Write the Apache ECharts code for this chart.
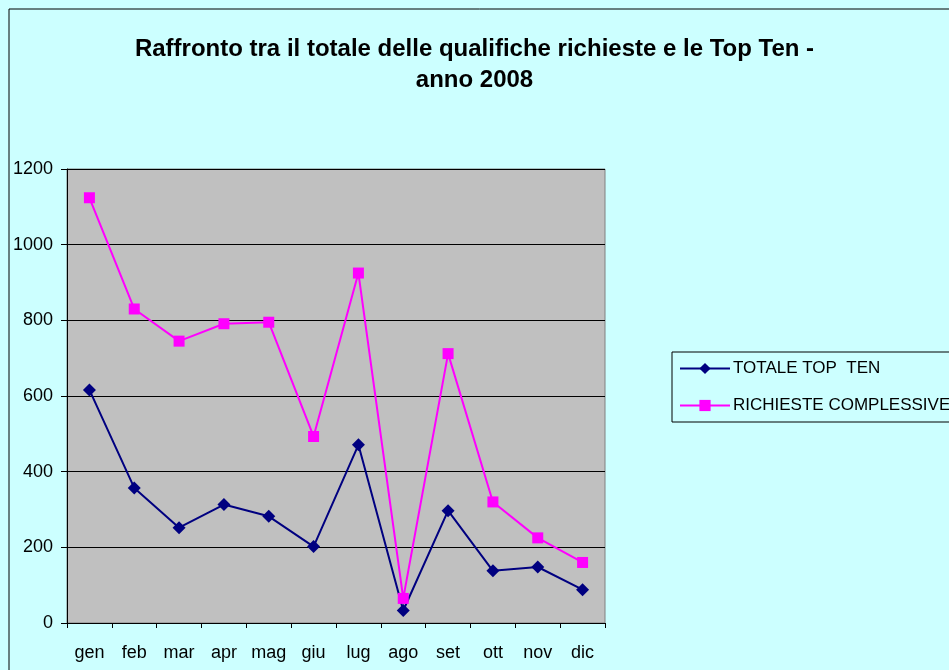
<!DOCTYPE html>
<html>
<head>
<meta charset="utf-8">
<script src="https://cdn.jsdelivr.net/npm/echarts@6/dist/echarts.min.js"></script>
<style>
  html, body { margin: 0; padding: 0; background: #ccffff; }
  #chart { width: 949px; height: 670px; }
</style>
</head>
<body>
<div id="chart"></div>
<script>
const months = ['gen', 'feb', 'mar', 'apr', 'mag', 'giu', 'lug', 'ago', 'set', 'ott', 'nov', 'dic']
const topTen = [616, 357, 252, 313, 282, 202, 471, 33, 297, 138, 148, 88]
const richieste = [1124, 830, 745, 791, 795, 493, 925, 65, 712, 320, 225, 160]
const yTicks = { min: 0, max: 1200, interval: 200 }

const chart = echarts.init(document.getElementById('chart'))
chart.setOption({
  backgroundColor: '#ccffff',
  animation: false,
  textStyle: { fontFamily: 'Liberation Sans, Arial, sans-serif' },
  title: {
    text: 'Raffronto tra il totale delle qualifiche richieste e le Top Ten -\nanno 2008',
    left: 'center',
    top: 29,
    textStyle: { fontSize: 24, fontWeight: 'bold', color: '#000', lineHeight: 31 }
  },
  graphic: [
    {
      type: 'rect',
      shape: { x: 9, y: 9, width: 960, height: 680 },
      style: { fill: 'none', stroke: '#000', lineWidth: 1 },
      silent: true
    }
  ],
  legend: {
    orient: 'vertical',
    left: 672,
    top: 352,
    padding: [8, 60, 8, 7],
    itemGap: 20,
    itemWidth: 50,
    itemHeight: 14,
    borderColor: '#000',
    borderWidth: 1,
    backgroundColor: '#ccffff',
    textStyle: { fontSize: 17, color: '#000', padding: [0, 0, 0, -2] },
    data: ['TOTALE TOP  TEN', 'RICHIESTE COMPLESSIVE']
  },
  grid: { left: 67, top: 169, right: 344, bottom: 47, containLabel: false,
    show: true, backgroundColor: '#c0c0c0', borderColor: '#808080', borderWidth: 1 },
  xAxis: {
    type: 'category',
    data: months,
    boundaryGap: true,
    axisLine: { lineStyle: { color: '#000', width: 1 } },
    axisTick: { show: true, length: 5, lineStyle: { color: '#000' } },
    axisLabel: { fontSize: 18, color: '#000', margin: 21, interval: 0 }
  },
  yAxis: {
    type: 'value',
    min: yTicks.min,
    max: yTicks.max,
    interval: yTicks.interval,
    axisLine: { show: true, lineStyle: { color: '#000', width: 1 } },
    axisTick: { show: true, length: 6, lineStyle: { color: '#000' } },
    axisLabel: { fontSize: 18, color: '#000', margin: 14, formatter: v => String(v) },
    splitLine: { lineStyle: { color: '#000', width: 1 } }
  },
  series: [
    {
      name: 'TOTALE TOP  TEN',
      type: 'line',
      data: topTen,
      symbol: 'diamond',
      symbolSize: 13,
      itemStyle: { color: '#000080' },
      lineStyle: { color: '#000080', width: 2 }
    },
    {
      name: 'RICHIESTE COMPLESSIVE',
      type: 'line',
      data: richieste,
      symbol: 'rect',
      symbolSize: 11,
      itemStyle: { color: '#ff00ff' },
      lineStyle: { color: '#ff00ff', width: 2 }
    }
  ]
})
</script>
</body>
</html>
